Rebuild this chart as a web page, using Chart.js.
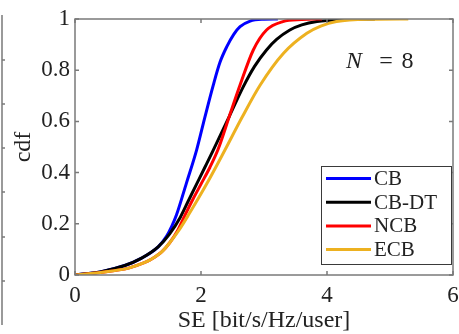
<!DOCTYPE html>
<html>
<head>
<meta charset="utf-8">
<script src="https://cdn.jsdelivr.net/npm/chart.js@4.4.0/dist/chart.umd.min.js"></script>
<style>
  html, body { margin: 0; padding: 0; background: #fff; }
  #wrap { width: 459px; height: 334px; }
</style>
</head>
<body>
<div id="wrap"><canvas id="cdfChart"></canvas></div>
<script>
// SE values [bit/s/Hz/user] and cdf for each scheme
const cbSE = [0, 0.4, 0.79, 1.05, 1.32, 1.45, 1.535, 1.61, 1.77, 1.93, 2.06, 2.195, 2.3, 2.41, 2.52, 2.62, 2.78, 3.0, 3.22];
const cbCdf = [0, 0.012, 0.037, 0.065, 0.11, 0.15, 0.19, 0.234, 0.36, 0.488, 0.615, 0.742, 0.83, 0.892, 0.94, 0.97, 0.992, 0.999, 1];

const cbdtSE = [0, 0.4, 0.79, 1.05, 1.32, 1.5, 1.67, 1.8, 1.93, 2.06, 2.195, 2.45, 2.67, 2.85, 3.04, 3.2, 3.41, 3.6, 3.84, 4.3, 4.76];
const cbdtCdf = [0, 0.012, 0.037, 0.065, 0.11, 0.16, 0.225, 0.29, 0.355, 0.42, 0.488, 0.62, 0.735, 0.815, 0.879, 0.92, 0.957, 0.977, 0.99, 0.998, 1];

const ncbSE = [0, 0.4, 0.85, 1.1, 1.2, 1.376, 1.5, 1.62, 1.746, 1.87, 2.0, 2.14, 2.27, 2.45, 2.62, 2.83, 3.04, 3.3, 3.6, 3.92];
const ncbCdf = [0, 0.01, 0.027, 0.048, 0.06, 0.09, 0.125, 0.17, 0.234, 0.295, 0.355, 0.42, 0.49, 0.62, 0.742, 0.879, 0.957, 0.99, 0.998, 1];

const ecbSE = [0, 0.4, 0.85, 1.1, 1.2, 1.376, 1.5, 1.65, 1.8, 2.1, 2.38, 2.65, 2.94, 3.31, 3.68, 3.9, 4.15, 4.7, 5.29];
const ecbCdf = [0, 0.01, 0.027, 0.048, 0.06, 0.09, 0.125, 0.175, 0.234, 0.36, 0.488, 0.615, 0.742, 0.866, 0.944, 0.972, 0.99, 0.999, 1];

const seriesNames = ["CB", "CB-DT", "NCB", "ECB"];
const seriesColors = ["#0000ff", "#000000", "#ff0000", "#edb120"];
const annotationText = "N = 8";

const xTicks = [0, 2, 4, 6];
const yTicks = [0, 0.2, 0.4, 0.6, 0.8, 1];

const FONT = "'Liberation Serif', 'Times New Roman', serif";

function toPoints(xs, ys) {
  return xs.map(function (x, i) { return { x: x, y: ys[i] }; });
}

const allSeries = [
  toPoints(cbSE, cbCdf),
  toPoints(cbdtSE, cbdtCdf),
  toPoints(ncbSE, ncbCdf),
  toPoints(ecbSE, ecbCdf),
];

function tickText(v) {
  return String(Math.round(v * 10) / 10);
}

// box, inward ticks, legend, annotation, stray axis of the neighbouring panel
const matlabFrame = {
  id: "matlabFrame",
  afterDatasetsDraw(chart) {
    const ctx = chart.ctx;
    const a = chart.chartArea;
    const xs = chart.scales.x;
    const ys = chart.scales.y;
    ctx.save();

    ctx.strokeStyle = "#7a7a7a";
    ctx.lineWidth = 1.5;
    ctx.strokeRect(a.left, a.top, a.right - a.left, a.bottom - a.top);

    ctx.beginPath();
    xTicks.forEach(function (v) {
      const px = xs.getPixelForValue(v);
      ctx.moveTo(px, a.bottom); ctx.lineTo(px, a.bottom - 4);
      ctx.moveTo(px, a.top); ctx.lineTo(px, a.top + 4);
    });
    yTicks.forEach(function (v) {
      const py = ys.getPixelForValue(v);
      ctx.moveTo(a.left, py); ctx.lineTo(a.left + 4, py);
      ctx.moveTo(a.right, py); ctx.lineTo(a.right - 4, py);
    });
    ctx.stroke();

    // annotation
    ctx.fillStyle = "#222";
    ctx.textBaseline = "middle";
    ctx.textAlign = "left";
    ctx.font = "italic 24px " + FONT;
    ctx.fillText("N", 346, 62);
    ctx.font = "24px " + FONT;
    ctx.textAlign = "center";
    ctx.fillText("=", 386, 62);
    ctx.fillText(annotationText.slice(-1), 407.5, 62);

    // legend
    const lx = 321, ly = 166, lw = 130, lh = 98;
    ctx.fillStyle = "#fff";
    ctx.fillRect(lx, ly, lw, lh);
    ctx.strokeStyle = "#3a3a3a";
    ctx.lineWidth = 1;
    ctx.strokeRect(lx + 0.5, ly + 0.5, lw, lh);
    ctx.font = "21px " + FONT;
    ctx.textAlign = "left";
    seriesNames.forEach(function (name, i) {
      const rowY = 178.5 + i * 23.7;
      ctx.strokeStyle = seriesColors[i];
      ctx.lineWidth = 3;
      ctx.beginPath();
      ctx.moveTo(326, rowY); ctx.lineTo(371, rowY);
      ctx.stroke();
      ctx.fillStyle = "#222";
      ctx.fillText(name, 374, rowY + 1);
    });

    // cut-off axis of the panel on the left
    ctx.strokeStyle = "#7a7a7a";
    ctx.lineWidth = 1.5;
    ctx.beginPath();
    ctx.moveTo(2, 15); ctx.lineTo(2, 325);
    [60, 104, 148, 192, 237, 281].forEach(function (py) {
      ctx.moveTo(2, py); ctx.lineTo(5, py);
    });
    ctx.stroke();
    ctx.restore();
  },
};

new Chart(document.getElementById("cdfChart"), {
  type: "line",
  data: {
    datasets: allSeries.map(function (pts, i) {
      return {
        label: seriesNames[i],
        data: pts,
        borderColor: seriesColors[i],
        borderWidth: 3,
        pointRadius: 0,
        fill: false,
        cubicInterpolationMode: "monotone",
        order: allSeries.length - i,
      };
    }),
  },
  options: {
    responsive: true,
    maintainAspectRatio: false,
    animation: false,
    layout: { padding: { top: 19, right: 6, left: 0, bottom: 0 } },
    plugins: {
      legend: { display: false },
      tooltip: { enabled: false },
    },
    scales: {
      x: {
        type: "linear",
        min: 0,
        max: 6,
        afterBuildTicks: function (s) { s.ticks = xTicks.map(function (v) { return { value: v }; }); },
        afterFit: function (s) { s.height = 59; s.paddingLeft = 0; s.paddingRight = 0; },
        grid: { display: false, drawTicks: false },
        border: { display: false },
        ticks: { color: "#222", padding: 7, font: { family: FONT, size: 23 }, maxRotation: 0, callback: tickText },
        title: {
          display: true,
          text: "SE [bit/s/Hz/user]",
          color: "#222",
          font: { family: FONT, size: 24 },
          padding: { top: 0, bottom: -1 },
        },
      },
      y: {
        min: 0,
        max: 1,
        afterBuildTicks: function (s) { s.ticks = yTicks.map(function (v) { return { value: v }; }); },
        afterFit: function (s) { s.width = 75; s.paddingTop = 0; s.paddingBottom = 0; },
        grid: { display: false, drawTicks: false },
        border: { display: false },
        ticks: { color: "#222", padding: 5, font: { family: FONT, size: 23 }, callback: tickText },
        title: {
          display: true,
          text: "cdf",
          color: "#222",
          font: { family: FONT, size: 24 },
          padding: { top: 9, bottom: 0 },
        },
      },
    },
  },
  plugins: [matlabFrame],
});
</script>
</body>
</html>
